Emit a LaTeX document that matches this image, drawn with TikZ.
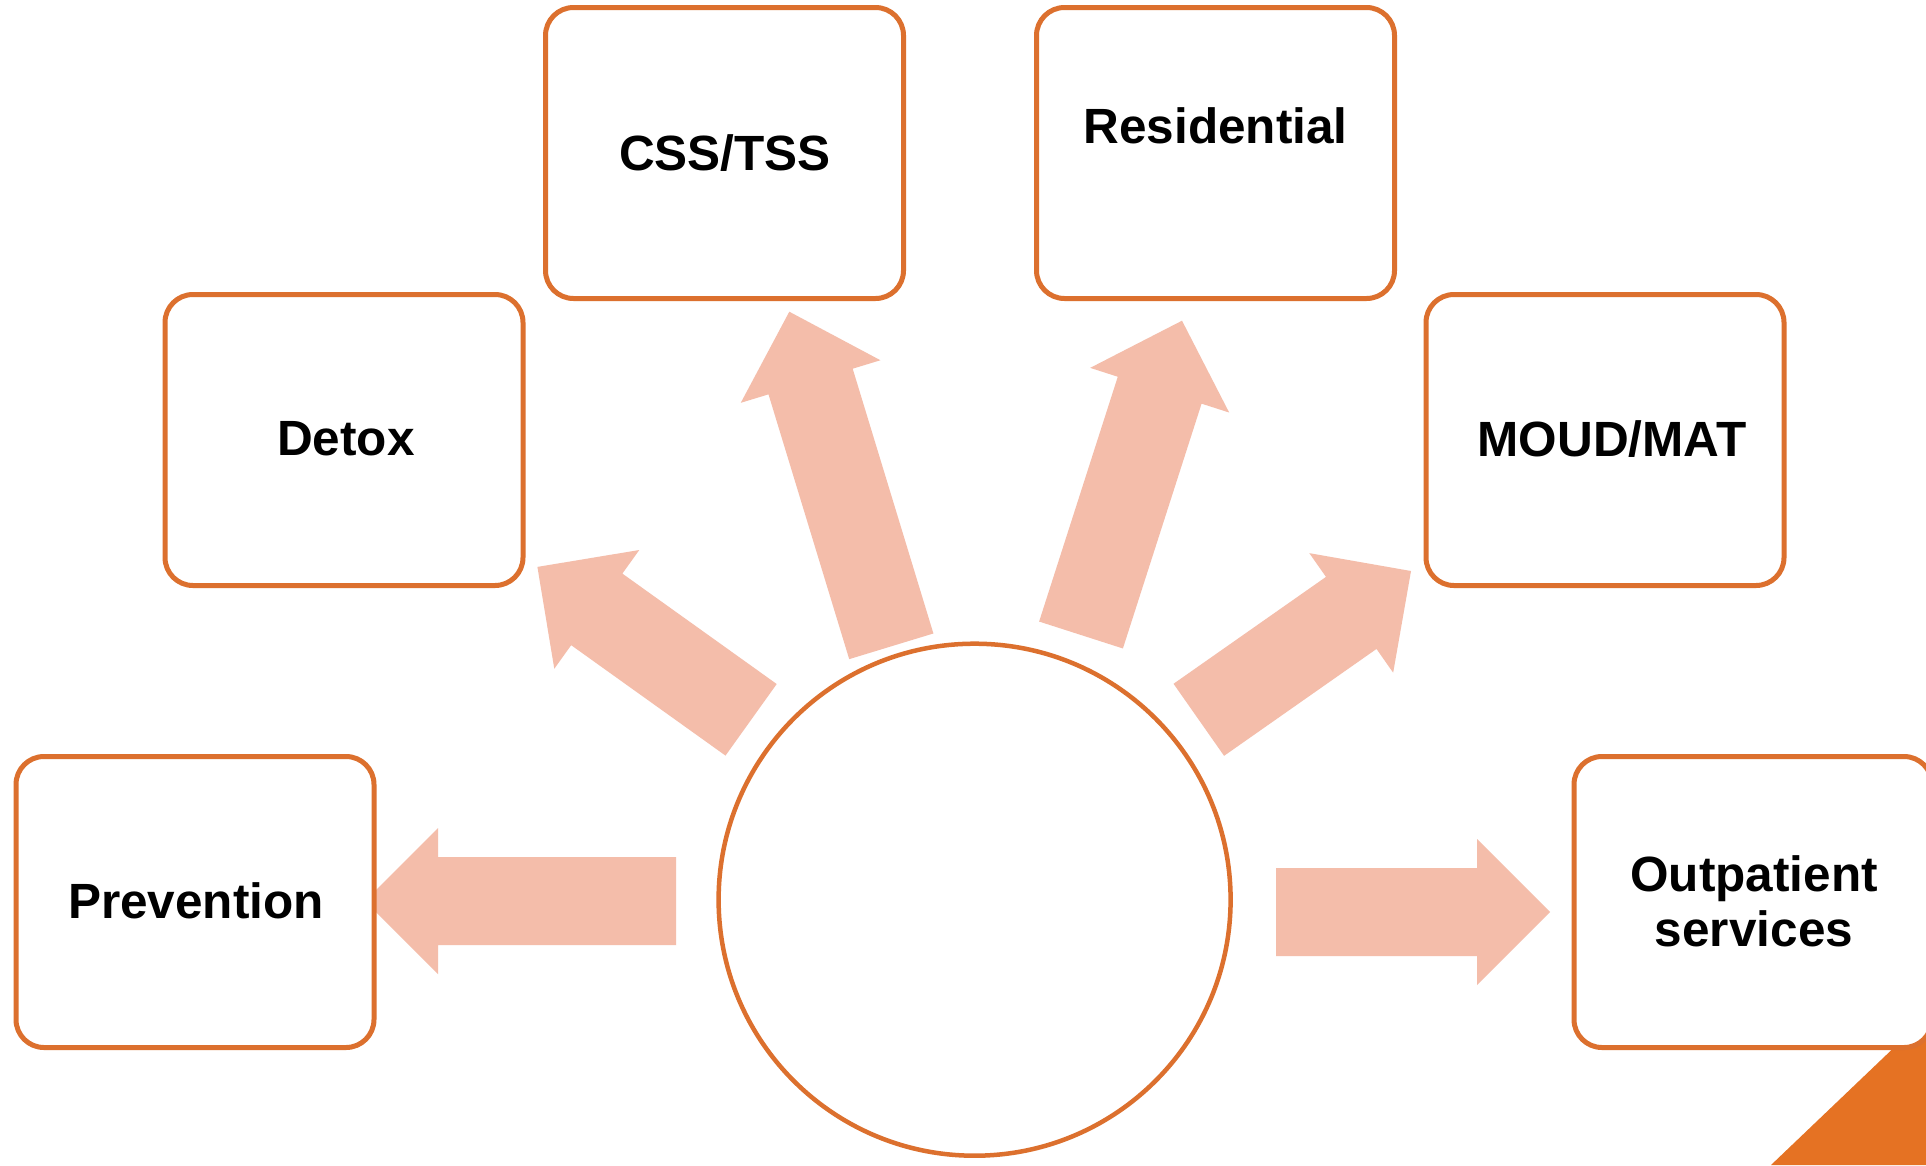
\documentclass[tikz,border=0pt]{standalone}
\usepackage{fontspec}
\setmainfont{Liberation Sans}
\usetikzlibrary{calc}

\definecolor{boxline}{RGB}{220,112,46}
\definecolor{arrowfill}{RGB}{244,189,170}
\definecolor{cornerfill}{RGB}{229,114,35}

\tikzset{
  stage/.style={draw=boxline, line width=5pt, fill=white, rounded corners=28pt,
                minimum width=358pt, minimum height=291pt, inner sep=0pt},
  hubring/.style={draw=boxline, line width=4.5pt, fill=white, circle,
                  minimum size=512pt, inner sep=0pt},
  caption/.style={font=\fontsize{49.5}{55}\selectfont\bfseries, inner sep=0pt,
                  anchor=base, align=center},
}

% Block arrow from a tail midpoint #1 to a tip #2 (shaft 88 wide, head 146 wide, 73 long)
\newcommand{\blockarrow}[2]{%
  \coordinate (#1-base) at ($(#2)!73pt!(#1)$);
  \fill[arrowfill]
    ($(#1)!44pt!90:(#2)$)
    -- ($(#1-base)!44pt!-90:(#1)$)
    -- ($(#1-base)!73pt!-90:(#1)$)
    -- (#2)
    -- ($(#1-base)!73pt!90:(#1)$)
    -- ($(#1-base)!44pt!90:(#1)$)
    -- ($(#1)!44pt!-90:(#2)$)
    -- cycle;}

\begin{document}
\begin{tikzpicture}[x=1pt,y=-1pt]
\useasboundingbox (0,0) rectangle (1926,1165);
\clip (0,0) rectangle (1926,1165);
\fill[white] (0,0) rectangle (1926,1165);

% corner accent
\fill[cornerfill] (1926,1017) -- (1926,1165) -- (1771,1165) -- cycle;

% arrow ends
\coordinate (prevT) at (676,901);    \coordinate (prevH) at (365,901);
\coordinate (outT)  at (1276,912);   \coordinate (outH)  at (1550,912);
\coordinate (detT)  at (751.1,719.8); \coordinate (detH) at (537.4,566.9);
\coordinate (cssT)  at (891.3,646.3); \coordinate (cssH) at (789.3,311.7);
\coordinate (resT)  at (1081,635);   \coordinate (resH)  at (1182,320.7);
\coordinate (moudT) at (1198.8,719.8); \coordinate (moudH) at (1411,571);

\blockarrow{prevT}{prevH}
\blockarrow{outT}{outH}
\blockarrow{detT}{detH}
\blockarrow{cssT}{cssH}
\blockarrow{resT}{resH}
\blockarrow{moudT}{moudH}

% central ring
\node[hubring] (hub) at (974.6,899.7) {};

% service boxes
\node[stage] (prevention)  at (195,902) {};
\node[stage] (detox)       at (344,440) {};
\node[stage] (css)         at (724.5,153) {};
\node[stage] (residential) at (1215.5,153) {};
\node[stage] (moud)        at (1605,440) {};
\node[stage] (outpatient)  at (1753,902) {};

% box labels
\node[caption] (preventionText)  at (196,918.3)  {Prevention};
\node[caption] (detoxText)       at (345.8,455)  {Detox};
\node[caption] (cssText)         at (725,170.7)  {CSS/TSS};
\node[caption] (residentialText) at (1215.7,143.3) {Residential};
\node[caption] (moudText)        at (1612,456)   {MOUD/MAT};
\node[caption] (outpatientText)  at (1754,946.7) {Outpatient\\services};
\end{tikzpicture}
\end{document}
